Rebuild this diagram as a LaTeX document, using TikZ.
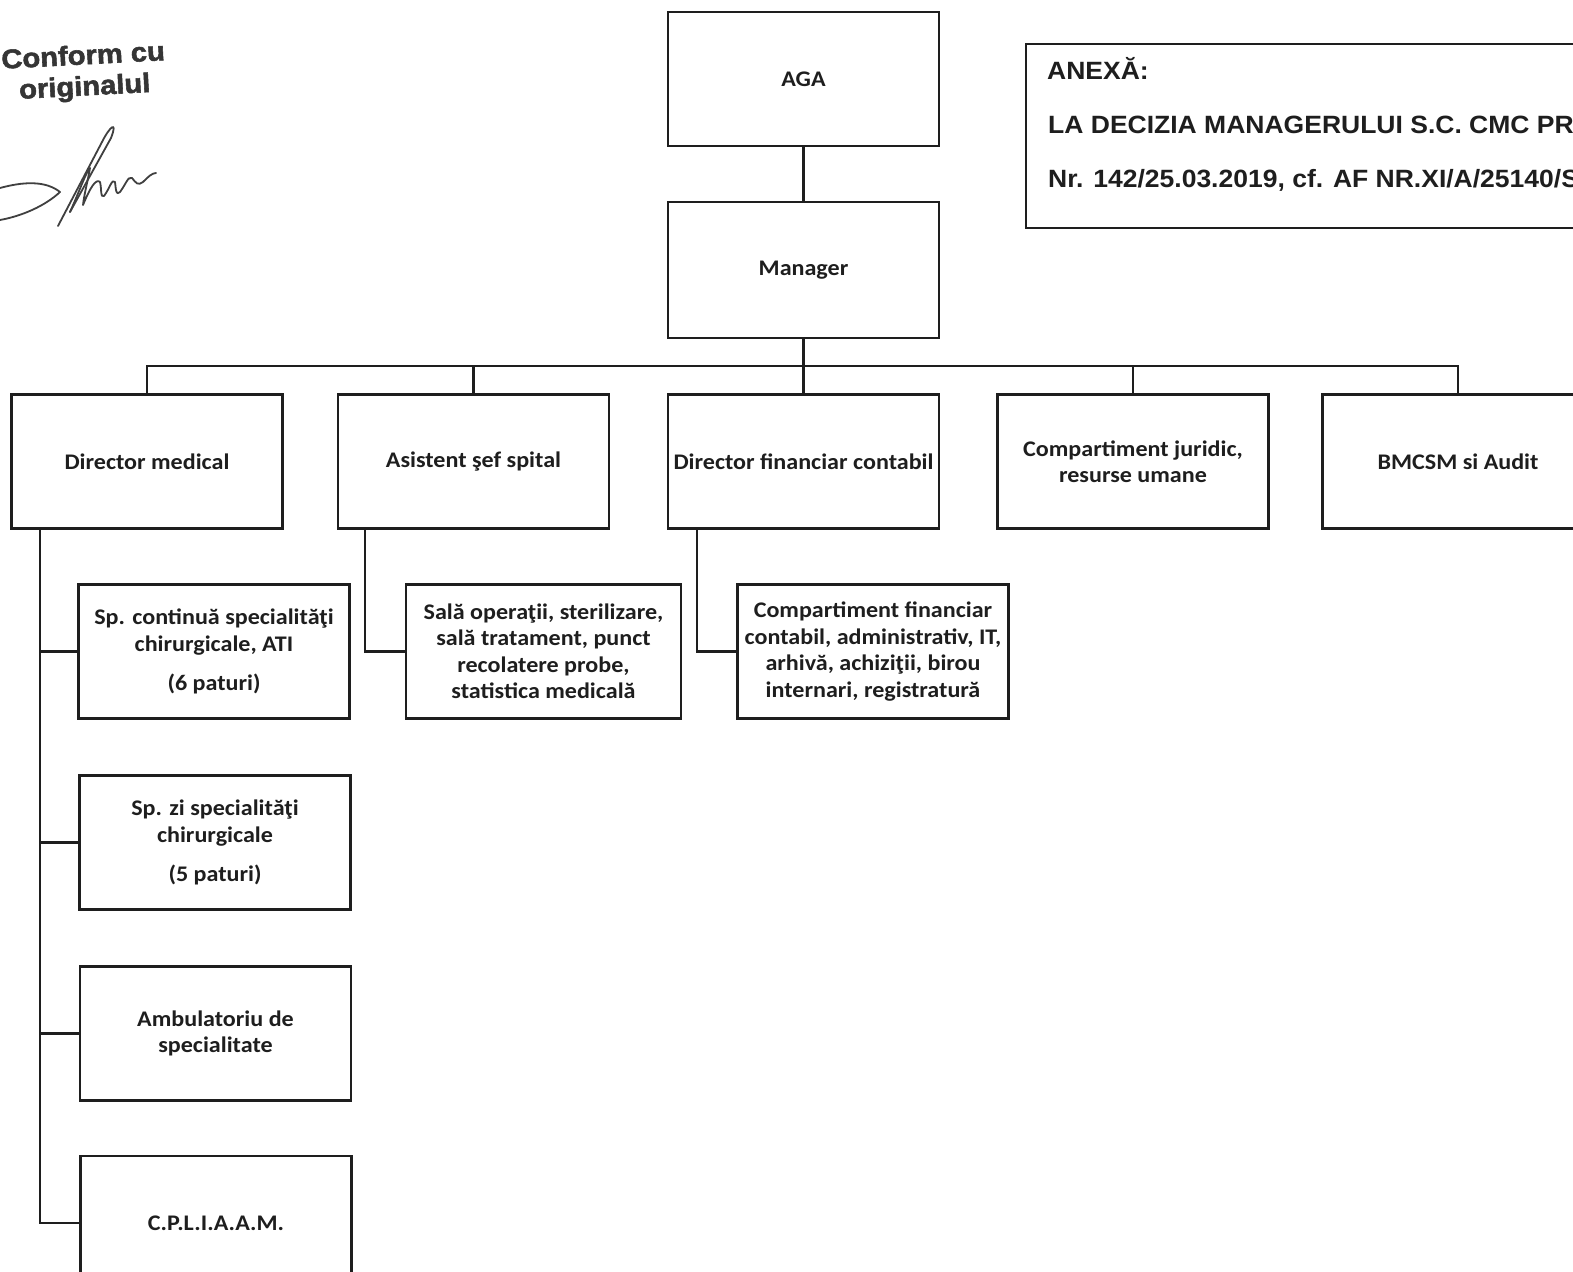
\documentclass[tikz,border=0pt]{standalone}
\usepackage{fontspec}
\newfontfamily\boxfont{Carlito}[FakeStretch=1.08]
\newfontfamily\arialfont{Liberation Sans}[FakeStretch=1.06]
\newfontfamily\stampfont{Liberation Sans}[FakeStretch=1.08,FakeBold=2]
\definecolor{ink}{HTML}{1E1E1E}
\begin{document}
\begin{tikzpicture}[x=1pt,y=-1pt,
  unit/.style={draw=ink,line width=2.4pt,inner sep=0pt,align=center,text=ink,
    font=\boxfont\bfseries\fontsize{22.3}{26.5}\selectfont,
    minimum width=271pt,minimum height=134pt},
  link/.style={draw=ink,line width=2.4pt},
  annextxt/.style={anchor=base west,inner sep=0pt,text=ink,font=\arialfont\bfseries\fontsize{25}{28}\selectfont},
  stamptxt/.style={inner sep=0pt,text=ink!90,rotate=3,align=center,font=\stampfont\bfseries\fontsize{27}{31}\selectfont},
  sig/.style={draw=ink!85,line width=1.8pt,line cap=round,line join=round}]
\useasboundingbox (0,0) rectangle (1573,1271);
\fill[white] (0,0) rectangle (1573,1271);
\clip (0,0) rectangle (1573,1271);

% top
\node[unit] (aga) at (803.5,79) {AGA};
\node[unit,minimum height=136pt] (mgr) at (803.5,270) {Manager};

% level 2
\node[unit] (dm) at (147,461.5) {Director medical};
\node[unit] (as) at (473.5,461.5) {Asistent şef spital};
\node[unit] (df) at (803.5,461.5) {Director financiar contabil};
\node[unit] (cj) at (1133,461.5) {Compartiment juridic,\\resurse umane};
\node[unit] (bm) at (1458,461.5) {BMCSM si Audit};

% level 3
\node[unit] (spc) at (214,651.5) {Sp. continuă specialităţi\\chirurgicale, ATI\\[13pt](6 paturi)};
\node[unit] (spz) at (215,842.5) {Sp. zi specialităţi\\chirurgicale\\[13pt](5 paturi)};
\node[unit] (amb) at (215.5,1033.5) {Ambulatoriu de\\specialitate};
\node[unit] (cpl) at (216,1223) {C.P.L.I.A.A.M.};
\node[unit,minimum width=275pt] (sala) at (543.5,651.5) {Sală operaţii, sterilizare,\\sală tratament, punct\\recolatere probe,\\statistica medicală};
\node[unit] (cf) at (873,651.5) {Compartiment financiar\\contabil, administrativ, IT,\\arhivă, achiziţii, birou\\internari, registratură};

% connectors
\coordinate (busy) at (0,366);
\coordinate (dmx) at (40,0);
\coordinate (asx) at (365,0);
\coordinate (dfx) at (697,0);
\draw[link] (aga) -- (mgr);
\draw[link] (mgr.south) -- (df.north);
\draw[link] (dm.north) -- (dm.north |- busy) -- (bm.north |- busy) -- (bm.north);
\draw[link] (as.north) -- (as.north |- busy);
\draw[link] (cj.north) -- (cj.north |- busy);
\draw[link] (dm.south -| dmx) |- (cpl.west);
\draw[link] (dmx |- spc.west) -- (spc.west);
\draw[link] (dmx |- spz.west) -- (spz.west);
\draw[link] (dmx |- amb.west) -- (amb.west);
\draw[link] (as.south -| asx) |- (sala.west);
\draw[link] (df.south -| dfx) |- (cf.west);

% annex
\node[draw=ink,line width=2.4pt,inner sep=0pt,minimum width=600pt,minimum height=184pt] (anexa) at (1326,136) {};
\node[annextxt] (an1) at (1047,80) {ANEXĂ:};
\node[annextxt] (an2) at (1048,134) {LA DECIZIA MANAGERULUI S.C. CMC PR};
\node[annextxt] (an3) at (1048,187) {Nr. 142/25.03.2019, cf. AF NR.XI/A/25140/S};

% stamp
\node[stamptxt] (stamp) at (84,73) {Conform cu\\originalul};

% signature
\draw[sig] (0,188) .. controls (22,182) and (45,180) .. (60,192);
\draw[sig] (0,220) .. controls (22,216) and (45,206) .. (60,192);
\draw[sig] (58,226) -- (102,142) .. controls (110,126) and (118,120) .. (111,138) -- (70,212);
\draw[sig] (70,212) .. controls (80,190) and (86,172) .. (90,168) .. controls (88,180) and (84,195) .. (83,205)
  .. controls (90,188) and (96,178) .. (100,182) .. controls (102,190) and (100,198) .. (104,196)
  .. controls (110,188) and (112,178) .. (115,182) .. controls (116,190) and (116,196) .. (120,192)
  .. controls (126,184) and (128,176) .. (132,178) .. controls (136,183) and (138,186) .. (143,182)
  .. controls (148,177) and (152,173) .. (156,173);
\end{tikzpicture}
\end{document}
